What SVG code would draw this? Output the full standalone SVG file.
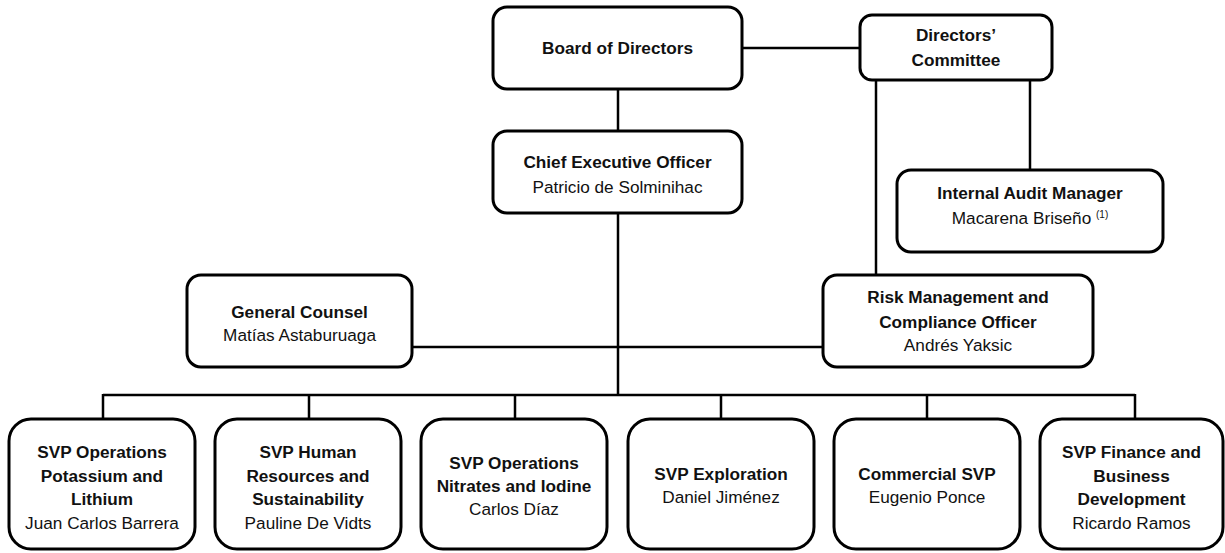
<svg xmlns="http://www.w3.org/2000/svg" width="1225" height="553" viewBox="0 0 1225 553">
<style>
.box{fill:#fff;stroke:#000;stroke-width:3}
.ln{fill:none;stroke:#000;stroke-width:2.5}
text{font-family:"Liberation Sans",Arial,sans-serif;font-size:17.2px;fill:#111;text-anchor:middle}
.t{font-weight:bold}
.sup{font-size:10px}
</style>
<rect width="1225" height="553" fill="#fff"/>
<g id="connectors">
<path class="ln" d="M742 48H860"/>
<path class="ln" d="M618 89V131"/>
<path class="ln" d="M618 213V395"/>
<path class="ln" d="M412 347H823"/>
<path class="ln" d="M876 80V275"/>
<path class="ln" d="M1030 80V170"/>
<path class="ln" d="M103 395H1135"/>
<path class="ln" d="M103 394V419M309 394V419M515 394V419M721 394V419M927 394V419M1135 394V419"/>
</g>
<g id="board"><rect class="box" x="493" y="7" width="249" height="82" rx="14"/><text class="t" x="617.5" y="54">Board of Directors</text></g>
<g id="ceo"><rect class="box" x="493" y="131" width="249" height="82" rx="14"/><text class="t" x="617.5" y="168">Chief Executive Officer</text><text x="617.5" y="193">Patricio de Solminihac</text></g>
<g id="committee"><rect class="box" x="860" y="15" width="192" height="65" rx="12"/><text class="t" x="956" y="41">Directors’</text><text class="t" x="956" y="66">Committee</text></g>
<g id="audit"><rect class="box" x="897" y="170" width="266" height="82" rx="14"/><text class="t" x="1030" y="199">Internal Audit Manager</text><text x="1030" y="224">Macarena Briseño <tspan class="sup" dy="-6">(1)</tspan></text></g>
<g id="risk"><rect class="box" x="823" y="275" width="270" height="92" rx="14"/><text class="t" x="958" y="303">Risk Management and</text><text class="t" x="958" y="328">Compliance Officer</text><text x="958" y="351">Andrés Yaksic</text></g>
<g id="counsel"><rect class="box" x="187" y="275" width="225" height="92" rx="14"/><text class="t" x="299.5" y="318">General Counsel</text><text x="299.5" y="341">Matías Astaburuaga</text></g>
<g id="svp1"><rect class="box" x="9" y="419" width="186" height="130" rx="22"/><text class="t" x="102" y="458">SVP Operations</text><text class="t" x="102" y="481.5">Potassium and</text><text class="t" x="102" y="505">Lithium</text><text x="102" y="528.5">Juan Carlos Barrera</text></g>
<g id="svp2"><rect class="box" x="215" y="419" width="186" height="130" rx="22"/><text class="t" x="308" y="458">SVP Human</text><text class="t" x="308" y="481.5">Resources and</text><text class="t" x="308" y="505">Sustainability</text><text x="308" y="528.5">Pauline De Vidts</text></g>
<g id="svp3"><rect class="box" x="421" y="419" width="186" height="130" rx="22"/><text class="t" x="514" y="469">SVP Operations</text><text class="t" x="514" y="492">Nitrates and Iodine</text><text x="514" y="515">Carlos Díaz</text></g>
<g id="svp4"><rect class="box" x="628" y="419" width="186" height="130" rx="22"/><text class="t" x="721" y="480">SVP Exploration</text><text x="721" y="503">Daniel Jiménez</text></g>
<g id="svp5"><rect class="box" x="834" y="419" width="186" height="130" rx="22"/><text class="t" x="927" y="480">Commercial SVP</text><text x="927" y="503">Eugenio Ponce</text></g>
<g id="svp6"><rect class="box" x="1040" y="419" width="183" height="130" rx="22"/><text class="t" x="1131.5" y="458">SVP Finance and</text><text class="t" x="1131.5" y="481.5">Business</text><text class="t" x="1131.5" y="505">Development</text><text x="1131.5" y="528.5">Ricardo Ramos</text></g>
</svg>
